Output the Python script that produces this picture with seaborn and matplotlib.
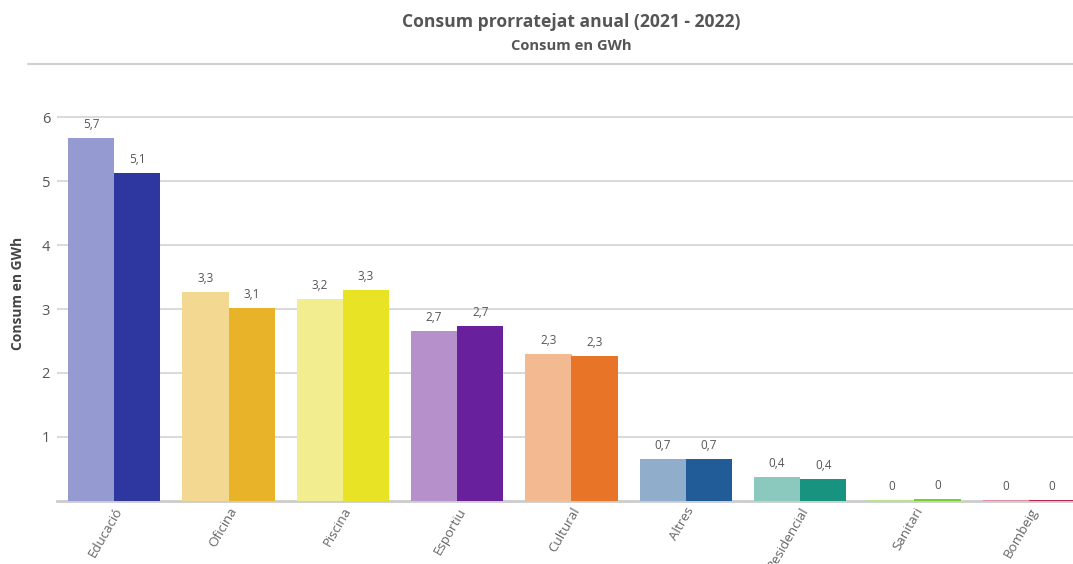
import matplotlib
matplotlib.use("Agg")
import matplotlib.pyplot as plt
import seaborn as sns
import pandas as pd
from matplotlib.lines import Line2D

# data
categories = ["Educació", "Oficina", "Piscina", "Esportiu", "Cultural",
              "Altres", "Residencial", "Sanitari", "Bombeig"]
years = ["2021", "2022"]
consum_2021 = [5.67, 3.26, 3.15, 2.65, 2.30, 0.66, 0.38, 0.02, 0.01]
consum_2022 = [5.12, 3.02, 3.29, 2.74, 2.26, 0.66, 0.35, 0.025, 0.01]
labels_2021 = ["5,7", "3,3", "3,2", "2,7", "2,3", "0,7", "0,4", "0", "0"]
labels_2022 = ["5,1", "3,1", "3,3", "2,7", "2,3", "0,7", "0,4", "0", "0"]
colors_2021 = ["#959bd0", "#f2d891", "#f2ee8f", "#b590cb", "#f3ba92",
               "#90aecb", "#8bc9be", "#bde38d", "#de8fa3"]
colors_2022 = ["#2e36a0", "#e8b328", "#e8e325", "#68209c", "#e87527",
               "#215b98", "#179380", "#78d12b", "#b8234a"]

df = pd.DataFrame({
    "categoria": categories * 2,
    "consum": consum_2021 + consum_2022,
    "any": [years[0]] * len(categories) + [years[1]] * len(categories),
})

sns.set_style("white")
plt.rcParams["font.family"] = ["Open Sans", "DejaVu Sans"]

W, H = 1073, 564
fig = plt.figure(figsize=(W / 100, H / 100), dpi=100)
# plot area runs a little past the right edge of the image, as in the reference
x0, x1 = 57, 1086
y_zero, px_per_unit = 501, 64
ymax = 6.5
y_top = y_zero - ymax * px_per_unit
ax = fig.add_axes([x0 / W, 1 - y_zero / H, (x1 - x0) / W, (y_zero - y_top) / H])

sns.barplot(data=df, x="categoria", y="consum", hue="any", order=categories,
            hue_order=years, width=0.81, saturation=1, linewidth=0,
            legend=False, ax=ax)

for cont, cols, labs in zip(ax.containers, [colors_2021, colors_2022],
                            [labels_2021, labels_2022]):
    for bar, c in zip(cont, cols):
        bar.set_facecolor(c)
        bar.set_edgecolor("none")
        bar.set_zorder(2)
    ax.bar_label(cont, labels=labs, padding=5, fontsize=8.5, color="#555555")

ax.set_ylim(0, ymax)
ax.set_yticks([1, 2, 3, 4, 5, 6])
ax.yaxis.grid(True, color="#d0d0d0", linewidth=1.1)
ax.set_axisbelow(True)
for s in ["top", "right", "left"]:
    ax.spines[s].set_visible(False)
ax.spines["bottom"].set_color("#cccccc")
ax.spines["bottom"].set_linewidth(2)
ax.spines["bottom"].set_zorder(1)
ax.tick_params(axis="y", length=0, labelsize=10.5, labelcolor="#555555", pad=5)
ax.tick_params(axis="x", length=0, labelsize=9.6, labelcolor="#666666", pad=3)
plt.setp(ax.get_xticklabels(), rotation=60, ha="right", rotation_mode="anchor")
ax.set_xlabel("")
ax.set_ylabel("Consum en GWh", fontsize=10, fontweight="bold", color="#444444",
              labelpad=12)

fig.text(571 / W, 1 - 22 / H, "Consum prorratejat anual (2021 - 2022)",
         ha="center", va="center", fontsize=12.6, fontweight="bold", color="#555555")
fig.text(571 / W, 1 - 46 / H, "Consum en GWh", ha="center", va="center",
         fontsize=10.6, fontweight="bold", color="#555555")
fig.add_artist(Line2D([28 / W, 1.0], [1 - 64 / H] * 2, color="#d0d0d0",
                      linewidth=1.5, transform=fig.transFigure))

fig.savefig("out.png", dpi=100)
